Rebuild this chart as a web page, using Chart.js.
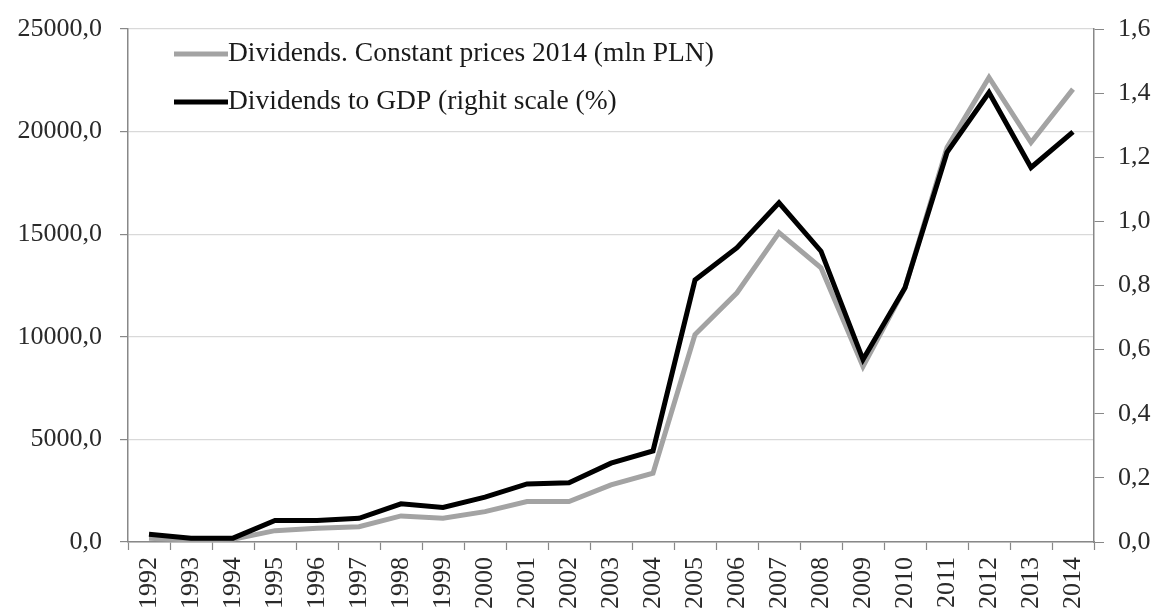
<!DOCTYPE html>
<html>
<head>
<meta charset="utf-8">
<script src="https://cdn.jsdelivr.net/npm/chart.js@4/dist/chart.umd.min.js"></script>
<style>
  html, body { margin: 0; padding: 0; background: #fff; }
  #wrap { width: 1156px; height: 610px; }
</style>
</head>
<body>
<div id="wrap"><canvas id="c" width="1156" height="610"></canvas></div>
<script>
const years = ['1992','1993','1994','1995','1996','1997','1998','1999','2000','2001','2002','2003','2004','2005','2006','2007','2008','2009','2010','2011','2012','2013','2014'];
const dividendsConstant = [181, 98, 132, 552, 669, 747, 1270, 1157, 1480, 1968, 1968, 2783, 3355, 10108, 12144, 15074, 13365, 8560, 12388, 19225, 22643, 19469, 22072];
const dividendsToGdp = [0.024, 0.012, 0.012, 0.067, 0.067, 0.074, 0.119, 0.108, 0.140, 0.181, 0.185, 0.246, 0.284, 0.817, 0.918, 1.058, 0.907, 0.569, 0.793, 1.215, 1.402, 1.168, 1.279];
const leftTicks = [0, 5000, 10000, 15000, 20000, 25000];
const rightTicks = [0, 0.2, 0.4, 0.6, 0.8, 1.0, 1.2, 1.4, 1.6];
const seriesLabels = ['Dividends. Constant prices 2014 (mln PLN)', 'Dividends to GDP (righit scale (%)'];

const SERIF = '"Liberation Serif", "Times New Roman", serif';
const fmt = v => Number(v).toFixed(1).replace('.', ',');

const legendInside = {
  id: 'legendInside',
  afterDraw(chart) {
    const ctx = chart.ctx;
    const rows = [54, 102];
    ctx.save();
    chart.data.datasets.forEach((ds, i) => {
      const y = rows[i];
      ctx.strokeStyle = ds.borderColor;
      ctx.lineWidth = ds.borderWidth;
      ctx.beginPath();
      ctx.moveTo(174, y);
      ctx.lineTo(228, y);
      ctx.stroke();
      ctx.fillStyle = '#1a1a1a';
      ctx.font = '27.5px ' + SERIF;
      ctx.textBaseline = 'middle';
      ctx.textAlign = 'left';
      ctx.fillText(ds.label, 228, y);
    });
    ctx.restore();
  }
};

new Chart(document.getElementById('c'), {
  type: 'line',
  data: {
    labels: years,
    datasets: [
      {
        label: seriesLabels[0],
        data: dividendsConstant,
        yAxisID: 'y',
        borderColor: '#a3a3a3',
        borderWidth: 5,
        pointRadius: 0,
        tension: 0,
        order: 1
      },
      {
        label: seriesLabels[1],
        data: dividendsToGdp,
        yAxisID: 'y1',
        borderColor: '#000000',
        borderWidth: 5,
        pointRadius: 0,
        tension: 0,
        order: 0
      }
    ]
  },
  options: {
    responsive: false,
    animation: false,
    layout: { padding: { top: 29, left: 0, right: 0, bottom: 0 } },
    plugins: {
      legend: { display: false },
      tooltip: { enabled: false }
    },
    scales: {
      x: {
        offset: true,
        grid: { offset: true, drawOnChartArea: false, tickLength: 8, color: '#888888', tickWidth: 1.2 },
        border: { color: '#888888', width: 1.5 },
        ticks: {
          autoSkip: false, minRotation: 90, maxRotation: 90, padding: 7,
          color: '#2a2a2a', font: { family: SERIF, size: 26 }
        },
        afterFit: s => { s.height = 68; s.paddingLeft = 0; s.paddingRight = 0; }
      },
      y: {
        position: 'left',
        min: 0, max: 25000,
        afterBuildTicks: s => { s.ticks = leftTicks.map(v => ({ value: v })); },
        grid: { color: '#d9d9d9', lineWidth: 1.2, tickLength: 8, tickColor: '#888888' },
        border: { color: '#888888', width: 1.5 },
        ticks: {
          padding: 18, color: '#2a2a2a', font: { family: SERIF, size: 26 },
          callback: v => fmt(v)
        },
        afterFit: s => { s.width = 128; s.paddingTop = 0; s.paddingBottom = 0; }
      },
      y1: {
        position: 'right',
        min: 0, max: 1.6,
        afterBuildTicks: s => { s.ticks = rightTicks.map(v => ({ value: v })); },
        grid: { drawOnChartArea: false, tickLength: 10, color: '#888888' },
        border: { color: '#888888', width: 1.5 },
        ticks: {
          padding: 14, color: '#2a2a2a', font: { family: SERIF, size: 26 },
          callback: v => fmt(v)
        },
        afterFit: s => { s.width = 62; s.paddingTop = 0; s.paddingBottom = 0; }
      }
    }
  },
  plugins: [legendInside]
});
</script>
</body>
</html>
